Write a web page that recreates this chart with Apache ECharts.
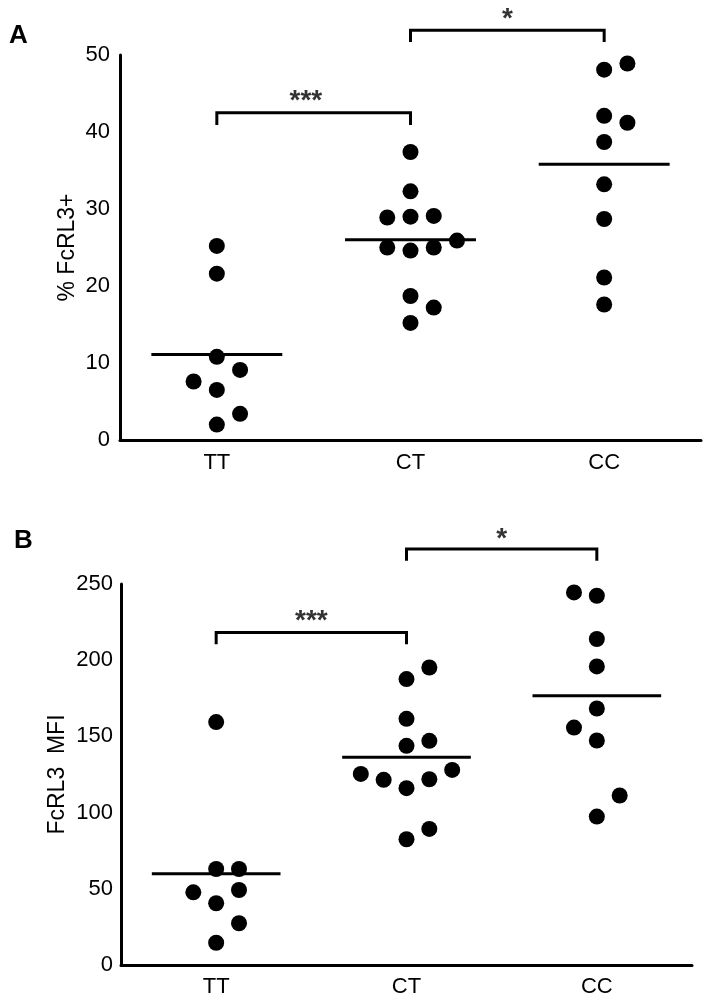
<!DOCTYPE html>
<html>
<head>
<meta charset="utf-8">
<script src="https://cdn.jsdelivr.net/npm/echarts@6/dist/echarts.min.js"></script>
<style>
html,body{margin:0;padding:0;background:#fff;}
#chart{width:711px;height:1005px;}
</style>
</head>
<body>
<div id="chart"></div>
<script>
// ---------- data ----------
const categories = ['TT', 'CT', 'CC'];

// Panel A: % FcRL3+
const aTT = [25.2, 21.6, 10.8, 9.1, 7.6, 6.5, 3.4, 2.0];
const aTTshift = [0, 0, 0, 1, -1, 0, 1, 0];
const aCT = [37.4, 32.3, 28.9, 29.0, 29.1, 25.9, 25.0, 24.6, 25.0, 18.7, 17.2, 15.2];
const aCTshift = [0, 0, -1, 0, 1, 2, -1, 0, 1, 0, 1, 0];
const aCC = [48.1, 48.9, 42.1, 41.2, 38.7, 33.2, 28.7, 21.1, 17.6];
const aCCshift = [0, 1, 0, 1, 0, 0, 0, 0, 0];
const aMeans = [11.1, 26.0, 35.8];
const aTicks = [0, 10, 20, 30, 40, 50];

// Panel B: FcRL3 MFI
const bTT = [159.4, 63.0, 63.0, 47.7, 49.2, 40.5, 27.4, 14.6];
const bTTshift = [0, 0, 1, -1, 1, 0, 1, 0];
const bCT = [187.6, 195.2, 161.5, 147.1, 143.8, 125.4, 121.5, 116.0, 121.9, 128.0, 82.5, 89.3];
const bCTshift = [0, 1, 0, 1, 0, -2, -1, 0, 1, 2, 0, 1];
const bCC = [244.5, 242.3, 213.9, 195.9, 168.3, 155.8, 147.3, 111.2, 97.4];
const bCCshift = [-1, 0, 0, 0, 0, -1, 0, 1, 0];
const bMeans = [59.8, 136.4, 176.6];
const bTicks = [0, 50, 100, 150, 200, 250];

// significance brackets
const sigLabels = ['***', '*'];
const sigPairs = [[0, 1], [1, 2]];
const aSigLevels = [42.5, 53.2];
const aSigDrop = [1.6, 1.5];
const aSigText = [44.0, 54.6];
const bSigLevels = [218.1, 272.9];
const bSigDrop = [7.6, 7.6];
const bSigText = [225.4, 279.1];

// ---------- build ----------
const FONT = 'Liberation Sans, Arial, Helvetica, sans-serif';
const JIT = 0.12;      // horizontal jitter step in category units
const HALF = 0.338;    // half width of mean bar

function pts(ci, vals, shifts) {
  return vals.map((v, i) => [ci + 0.5 + shifts[i] * JIT, v]);
}

function panelSeries(gi, groups, means, levels, drops, textY) {
  const s = [];
  groups.forEach((g, ci) => {
    s.push({
      type: 'scatter', xAxisIndex: gi, yAxisIndex: gi,
      data: pts(ci, g[0], g[1]),
      symbol: 'circle', symbolSize: 16,
      itemStyle: { color: '#000', opacity: 1 },
      silent: true, z: 3
    });
  });
  means.forEach((m, ci) => {
    s.push({
      type: 'line', xAxisIndex: gi, yAxisIndex: gi,
      data: [[ci + 0.5 - HALF, m], [ci + 0.5 + HALF, m]],
      symbol: 'none', lineStyle: { color: '#000', width: 3 },
      silent: true, z: 4
    });
  });
  sigPairs.forEach((p, k) => {
    const x0 = p[0] + 0.5, x1 = p[1] + 0.5, y = levels[k], d = drops[k];
    s.push({
      type: 'line', xAxisIndex: gi, yAxisIndex: gi, clip: false,
      data: [[x0, y - d], [x0, y], [x1, y], [x1, y - d]],
      symbol: 'none', lineStyle: { color: '#000', width: 3, join: 'miter', cap: 'butt' },
      silent: true, z: 4
    });
    s.push({
      type: 'scatter', xAxisIndex: gi, yAxisIndex: gi, clip: false,
      data: [[(x0 + x1) / 2 - (k === 0 && gi === 0 ? 0.04 : 0), textY[k]]],
      symbolSize: 1, itemStyle: { color: 'rgba(0,0,0,0)' },
      label: {
        show: true, position: 'inside', formatter: sigLabels[k],
        color: '#000', fontSize: 28, fontWeight: 'bold', fontFamily: FONT
      },
      silent: true, z: 5
    });
  });
  return s;
}

const catFmt = v => {
  const i = Math.round(v - 0.5);
  return Math.abs(v - (i + 0.5)) < 1e-6 && categories[i] ? categories[i] : '';
};

function xAxis(gi, fs, margin) {
  return {
    type: 'value', gridIndex: gi, min: 0, max: 3, interval: 0.5,
    axisLine: { show: true, onZero: false, lineStyle: { color: '#000', width: 3 } },
    axisTick: { show: false }, splitLine: { show: false },
    axisLabel: { formatter: catFmt, color: '#000', fontSize: fs, fontFamily: FONT, margin: margin, showMinLabel: true, showMaxLabel: true }
  };
}
function yAxis(gi, ticks, name, fs, nfs, gap, margin) {
  return {
    type: 'value', gridIndex: gi, min: ticks[0], max: ticks[ticks.length - 1],
    interval: ticks[1] - ticks[0],
    name: name, nameLocation: 'middle', nameGap: gap, nameRotate: 90,
    nameMoveOverlap: false,
    nameTextStyle: { color: '#000', fontSize: nfs, fontFamily: FONT },
    axisLine: { show: true, onZero: false, lineStyle: { color: '#000', width: 3 } },
    axisTick: { show: false }, splitLine: { show: false },
    axisLabel: { color: '#000', fontSize: fs, fontFamily: FONT, margin: margin }
  };
}

const option = {
  animation: false,
  backgroundColor: '#fff',
  grid: [
    { left: 120, top: 55, width: 581, height: 385 },
    { left: 121, top: 584, width: 571, height: 381 }
  ],
  xAxis: [xAxis(0, 22, 12), xAxis(1, 22, 11)],
  yAxis: [yAxis(0, aTicks, '% FcRL3+', 22, 23, 41, 10), yAxis(1, bTicks, 'FcRL3  MFI', 22, 23, 52, 8)],
  graphic: [
    { type: 'text', left: 9, top: 23, style: { text: 'A', font: 'bold 26px ' + FONT, fill: '#000' } },
    { type: 'text', left: 14, top: 528, style: { text: 'B', font: 'bold 26px ' + FONT, fill: '#000' } }
  ],
  series: [].concat(
    panelSeries(0, [[aTT, aTTshift], [aCT, aCTshift], [aCC, aCCshift]], aMeans, aSigLevels, aSigDrop, aSigText),
    panelSeries(1, [[bTT, bTTshift], [bCT, bCTshift], [bCC, bCCshift]], bMeans, bSigLevels, bSigDrop, bSigText)
  )
};

const chart = echarts.init(document.getElementById('chart'), null, { renderer: 'canvas' });
chart.setOption(option);
</script>
</body>
</html>
